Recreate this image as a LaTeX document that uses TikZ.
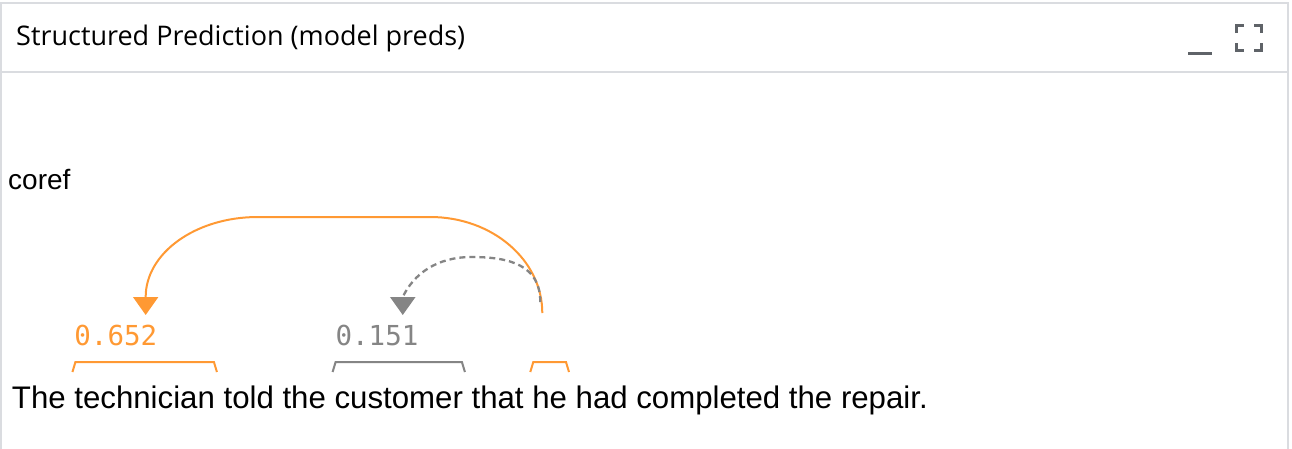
\documentclass[tikz,border=0pt]{standalone}
\usepackage{fontspec}
\setmainfont{Liberation Sans}
\newfontfamily\titlefont{Open Sans}
\newfontfamily\numfont{DejaVu Sans Mono}
\usetikzlibrary{arrows.meta,calc}
\definecolor{orng}{HTML}{FF9933}
\definecolor{grayc}{HTML}{858585}
\definecolor{bordc}{HTML}{DADCE0}
\definecolor{iconc}{HTML}{5F6368}
\tikzset{
  word/.style={inner sep=0pt, outer sep=0pt, anchor=base west, font=\fontsize{31.2}{36}\selectfont},
  lab/.style={inner sep=0pt, outer sep=0pt, anchor=base west, font=\numfont\fontsize{27.5}{30}\selectfont},
  spanbr/.style={line width=2pt, line join=miter},
  arc1/.style={draw=orng, line width=2pt, -{Triangle[length=18pt,width=25pt]}},
  arc2/.style={draw=grayc, line width=2.3pt, dash pattern=on 6pt off 4pt, -{Triangle[length=18pt,width=25pt]}},
  border/.style={draw=bordc, line width=2pt},
  icon/.style={draw=iconc, line width=3pt, line cap=butt, line join=miter}
}
\begin{document}
\begin{tikzpicture}[x=1pt,y=-1pt]
\useasboundingbox (0,0) rectangle (1292,448);
\fill[white] (0,0) rectangle (1292,448);
% frame
\draw[border] (1,470) -- (1,3) -- (1288,3) -- (1288,470);
\draw[border] (1,72) -- (1288,72);
% header
\node[inner sep=0pt, anchor=base west, font=\titlefont\fontsize{27}{32}\selectfont] (title) at (16,45) {Structured Prediction (model preds)};
\fill[iconc] (1188,52) rectangle (1212,55);
\draw[icon] (1236.5,33) |- (1244,25.5);
\draw[icon] (1254,25.5) -| (1261.5,33);
\draw[icon] (1236.5,43) |- (1244,50.5);
\draw[icon] (1254,50.5) -| (1261.5,43);
% coref label
\node[inner sep=0pt, anchor=base west, font=\fontsize{28}{32}\selectfont] (coref) at (8,189) {coref};
% sentence
\node[word] (w1) at (12,408) {The};
\node[word] (w2) at ([xshift=8.67pt]w1.base east) {technician};
\node[word] (w3) at ([xshift=8.67pt]w2.base east) {told the};
\node[word] (w4) at ([xshift=8.67pt]w3.base east) {customer};
\node[word] (w5) at ([xshift=8.67pt]w4.base east) {that};
\node[word] (w6) at ([xshift=8.67pt]w5.base east) {he};
\node[word] (w7) at ([xshift=8.67pt]w6.base east) {had completed the repair.};
% spans
\draw[spanbr, orng] ($(w2.base west)+(-2,-36)$) -- ($(w2.base west)+(1,-46)$) -- ($(w2.base east)+(-1,-46)$) -- ($(w2.base east)+(2,-36)$);
\draw[spanbr, grayc] ($(w4.base west)+(-2,-36)$) -- ($(w4.base west)+(1,-46)$) -- ($(w4.base east)+(-1,-46)$) -- ($(w4.base east)+(2,-36)$);
\draw[spanbr, orng] ($(w6.base west)+(-2,-36)$) -- ($(w6.base west)+(1,-46)$) -- ($(w6.base east)+(-1,-46)$) -- ($(w6.base east)+(2,-36)$);
% scores
\node[lab, text=orng] (L1) at ($(w2.base west)+(0,-63)$) {0.652};
\node[lab, text=grayc] (L2) at ($(w4.base west)+(1,-63)$) {0.151};
% arc coordinates
\coordinate (src1) at ($(w6.base west)+(10,-95)$);
\coordinate (tip1) at ($(w2.base)+(1,-93)$);
\coordinate (pk1) at ($(src1)+(-112,-96)$);
\coordinate (pk2) at ($(tip1)+(112,-98)$);
\coordinate (ae1) at ($(tip1)+(0,-18)$);
\coordinate (src2) at ($(w6.base west)+(8,-106)$);
\coordinate (tip2) at ($(w4.base)+(4,-93)$);
\coordinate (ae2) at ($(tip2)+(0,-18)$);
\coordinate (pk3) at ($(src2)!0.5!(tip2)+(0,-51.5)$);
% connectors
\draw[arc1] (src1) .. controls +(0,-53) and +(62,0) .. (pk1) -- (pk2) .. controls +(-62,0) and +(0,-44) .. (ae1) -- (tip1);
\draw[arc2] (src2) .. controls +(0,-37) and +(38,0) .. (pk3) .. controls +(-35,0) and +(11,-23) .. (ae2) -- (tip2);
\end{tikzpicture}
\end{document}
